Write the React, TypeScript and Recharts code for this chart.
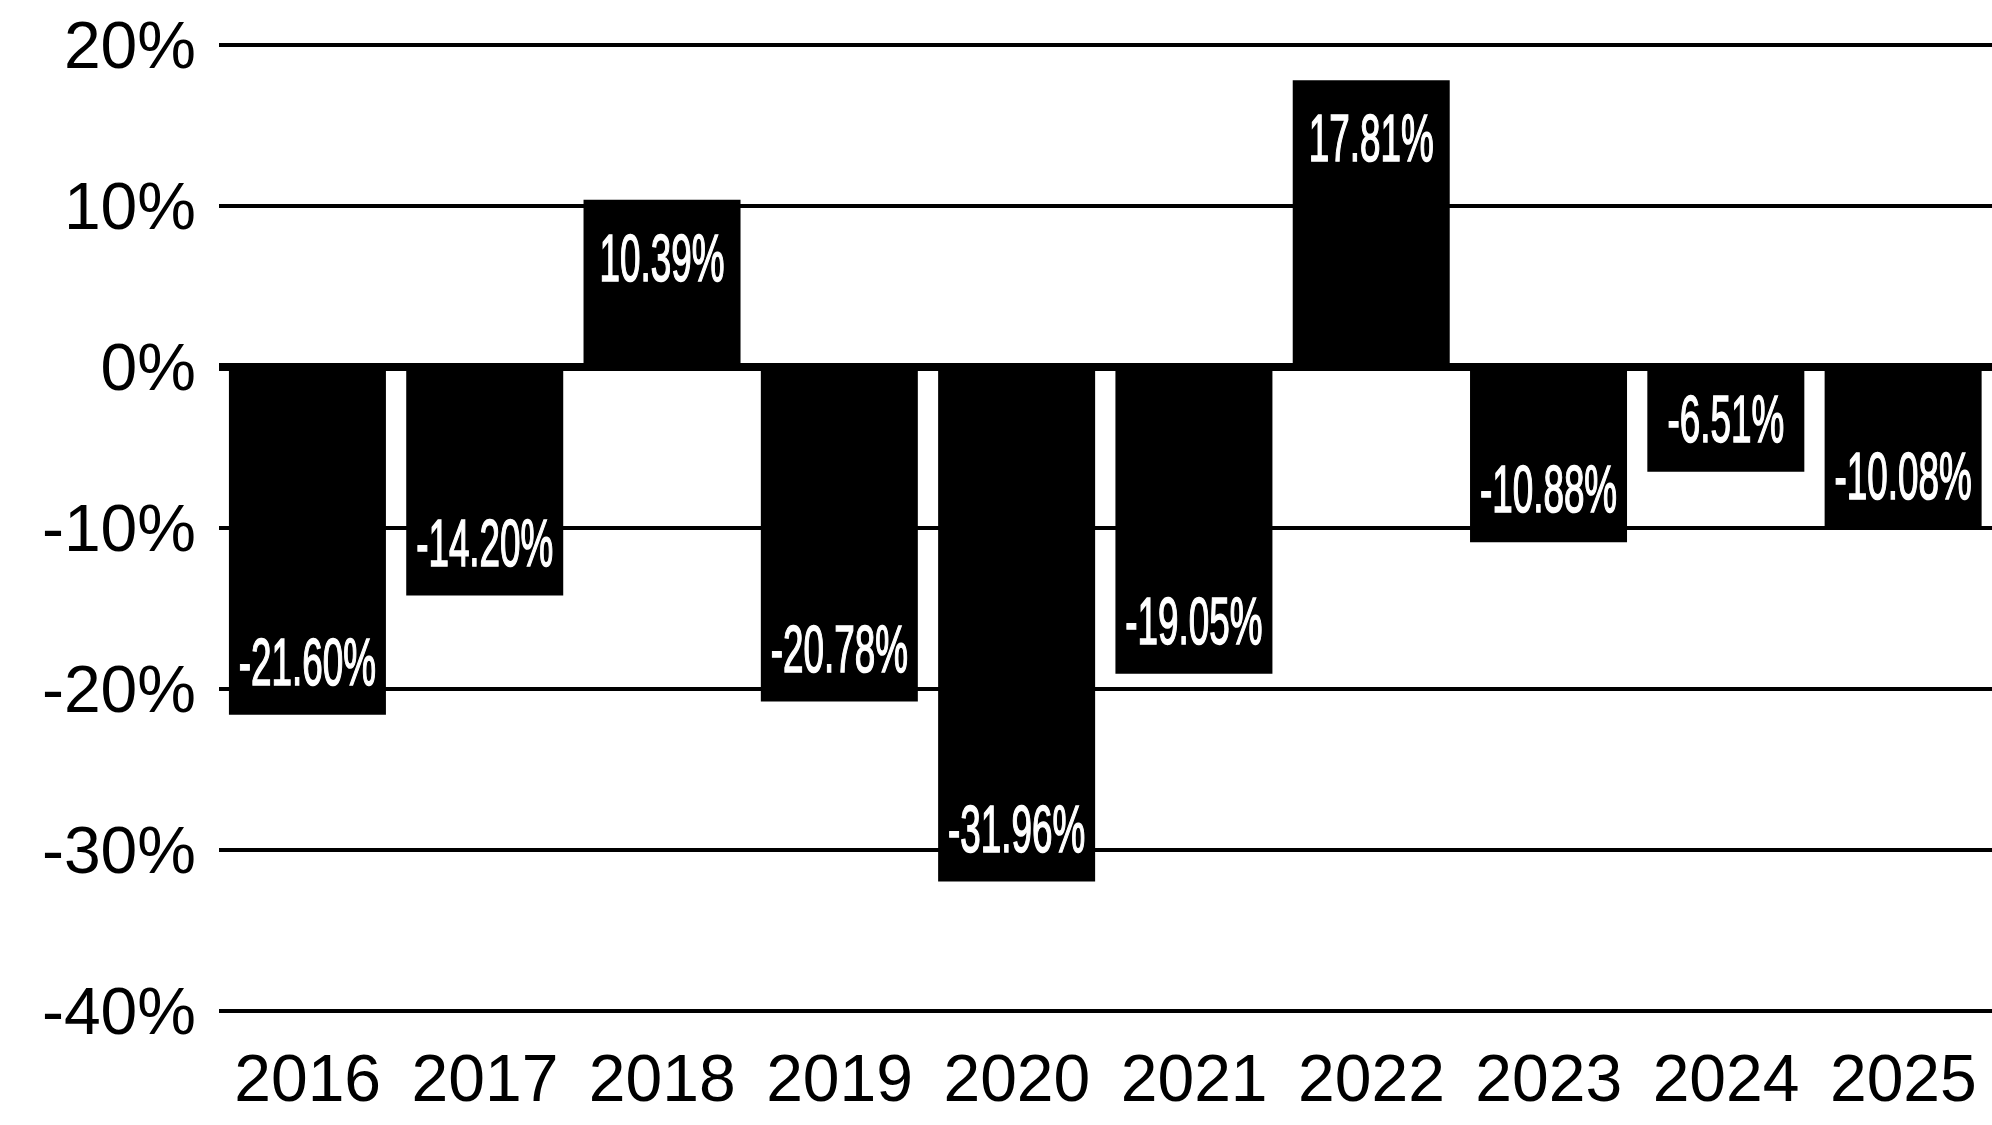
import { BarChart, Bar, XAxis, YAxis, CartesianGrid, ReferenceLine, LabelList } from "recharts"

const years = ["2016", "2017", "2018", "2019", "2020", "2021", "2022", "2023", "2024", "2025"]
const returns = [-21.6, -14.2, 10.39, -20.78, -31.96, -19.05, 17.81, -10.88, -6.51, -10.08]
const yTicks = [-40, -30, -20, -10, 0, 10, 20]

const chartData = years.map((year, i) => ({ year, value: returns[i] }))

const AXIS_FONT = "'Liberation Sans', Arial, sans-serif"

function BarValueLabel(props: any) {
  const { x, y, width, height, value } = props
  if (value == null) return null
  const top = Math.min(y, y + height)
  const bottom = Math.max(y, y + height)
  const cx = x + width / 2
  const cy = value >= 0 ? top + 57 : bottom - 54
  return (
    <text
      transform={`translate(${cx},${cy}) scale(0.55,1)`}
      x={0}
      y={0}
      dy="0.36em"
      textAnchor="middle"
      fill="#fff"
      stroke="#fff"
      strokeWidth={1.6}
      fontFamily={AXIS_FONT}
      fontSize={67}
    >
      {`${value.toFixed(2)}%`}
    </text>
  )
}

export default function App() {
  return (
    <div>
      <style>{`html, body { margin: 0; padding: 0; overflow: hidden; }`}</style>
      <BarChart
        width={1992}
        height={1125}
        data={chartData}
        margin={{ top: 45, right: 0, bottom: 0, left: 0 }}
        barCategoryGap="5.6%"
      >
        <CartesianGrid vertical={false} stroke="#000" strokeWidth={4} />
        <XAxis
          dataKey="year"
          axisLine={false}
          tickLine={false}
          tickSize={0}
          tickMargin={43}
          height={114}
          tick={{ fill: "#000", fontSize: 66, fontFamily: AXIS_FONT }}
          interval={0}
        />
        <YAxis
          domain={[-40, 20]}
          ticks={yTicks}
          width={219}
          axisLine={false}
          tickLine={false}
          tickSize={0}
          tickMargin={23}
          tickFormatter={(v) => `${v}%`}
          tick={{ fill: "#000", fontSize: 66, fontFamily: AXIS_FONT }}
          interval={0}
        />
        <Bar dataKey="value" fill="#000" isAnimationActive={false}>
          <LabelList dataKey="value" content={<BarValueLabel />} />
        </Bar>
        <ReferenceLine y={0} stroke="#000" strokeWidth={8} />
      </BarChart>
    </div>
  )
}
